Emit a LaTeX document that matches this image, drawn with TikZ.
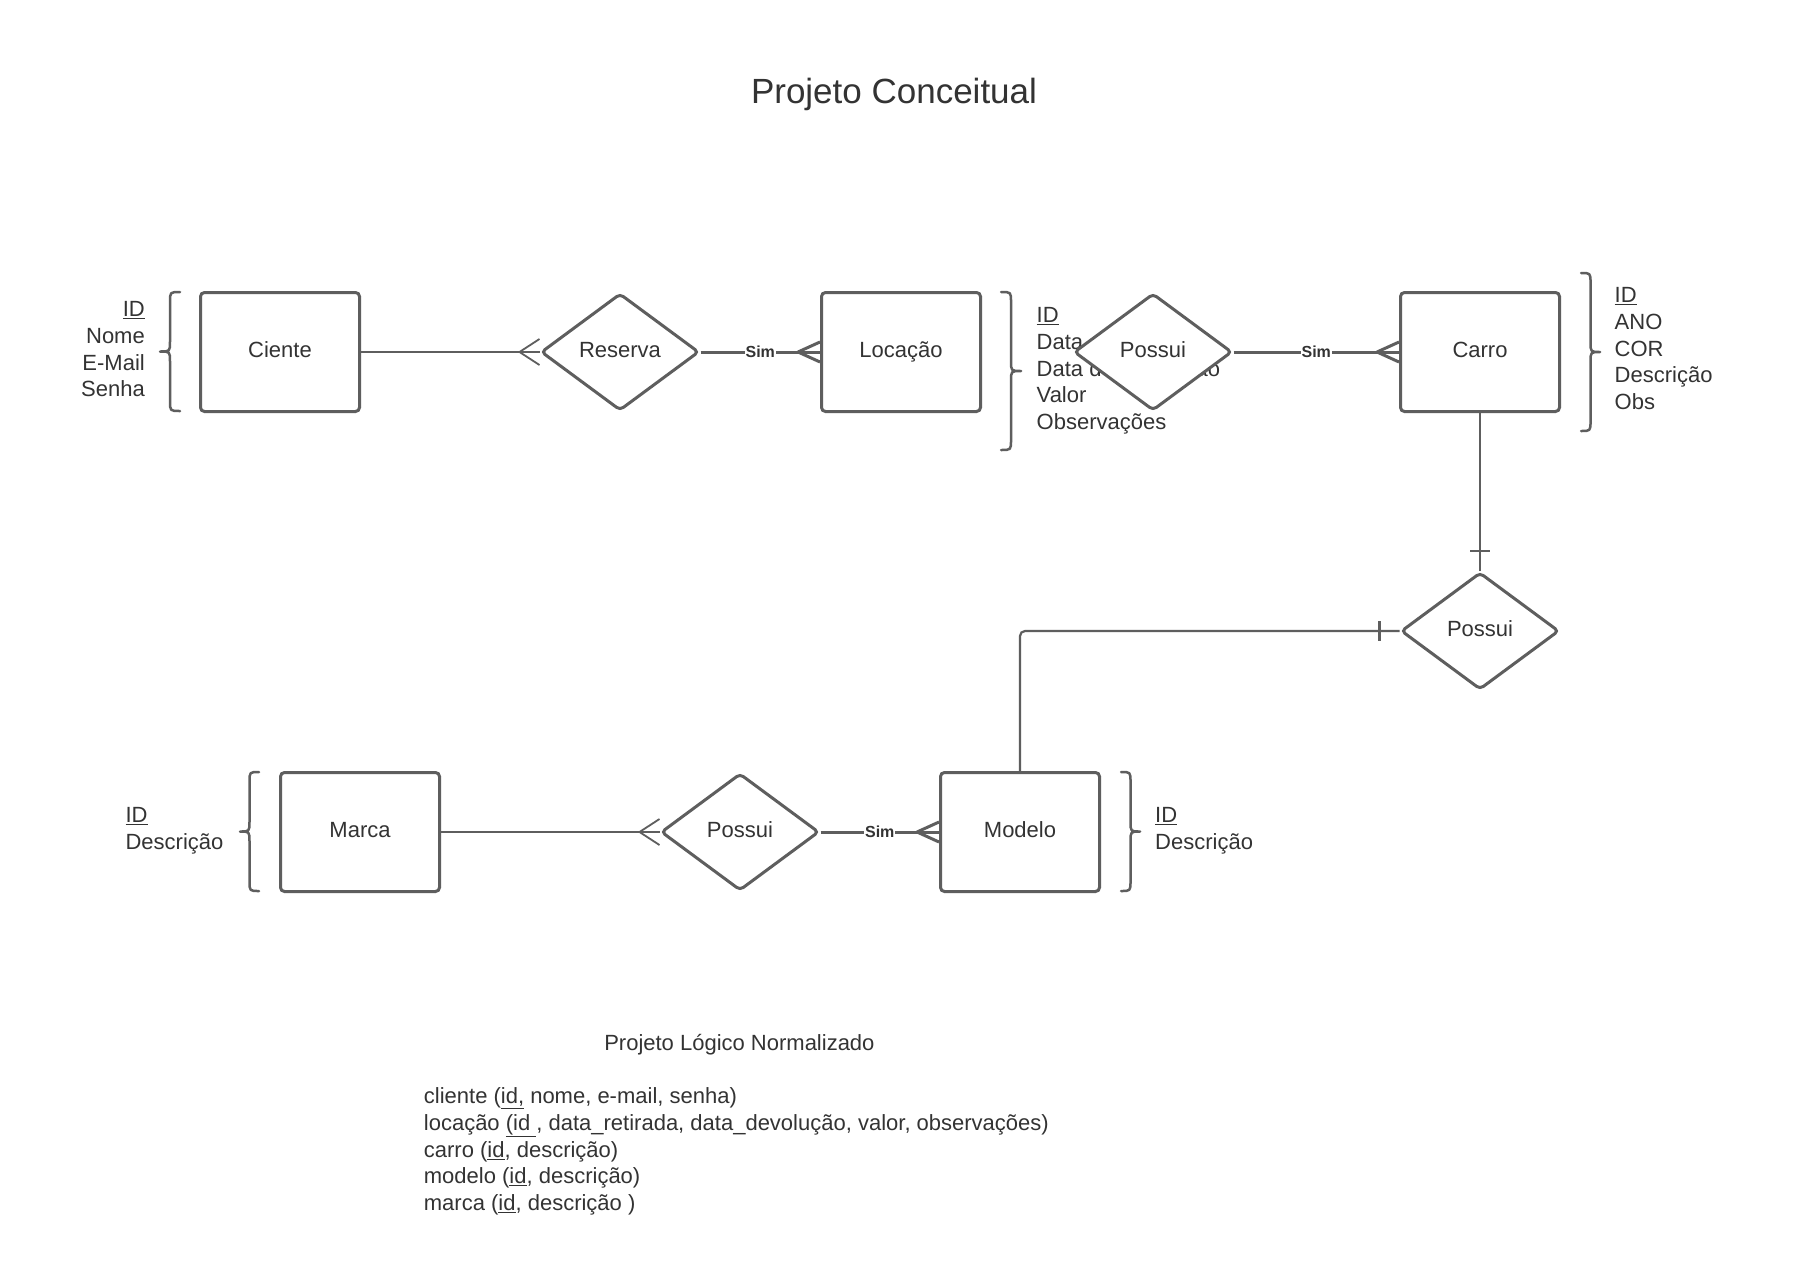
\documentclass[tikz,border=0pt]{standalone}
\usepackage{fontspec}
\setmainfont{Liberation Sans}
\usetikzlibrary{shapes.geometric,calc}
\definecolor{linec}{HTML}{5E5E5E}
\definecolor{txtc}{HTML}{333333}
\pgfdeclarelayer{back}
\pgfdeclarelayer{bg}
\pgfsetlayers{back,bg,main}
\newcommand{\erbrace}[4]{%
  \draw[brc] (#1,#3) .. controls ({(#1+#2)/2},#3) .. ({(#1+#2)/2},{#3+10})
    -- ({(#1+#2)/2},{(#3+#4)/2-10}) .. controls ({(#1+#2)/2},{(#3+#4)/2}) .. (#2,{(#3+#4)/2})
    .. controls ({(#1+#2)/2},{(#3+#4)/2}) .. ({(#1+#2)/2},{(#3+#4)/2+10})
    -- ({(#1+#2)/2},{#4-10}) .. controls ({(#1+#2)/2},#4) .. (#1,#4);}
\newcommand{\crowfoot}[4]{%
  \draw[#4] ($(#1)+(-#2,0)$) -- ($(#1)+(0,-#3)$);
  \draw[#4] ($(#1)+(-#2,0)$) -- ($(#1)+(0,#3)$);}
\begin{document}
\begin{tikzpicture}[x=1pt,y=-1pt,
  entity/.style={draw=linec, line width=3pt, rounded corners=4pt, minimum width=159pt, minimum height=119pt, fill=white, text=txtc, font=\fontsize{22}{26}\selectfont, inner sep=0pt, text height=16pt, text depth=5pt},
  rel/.style={diamond, draw=linec, line width=3pt, rounded corners=4pt, minimum width=158pt, minimum height=117pt, fill=white, text=txtc, font=\fontsize{22}{26}\selectfont, inner sep=0pt, text height=16pt, text depth=5pt},
  attrW/.style={anchor=base west, inner sep=0pt, text=txtc, font=\fontsize{22}{26}\selectfont},
  attrE/.style={anchor=base east, inner sep=0pt, text=txtc, font=\fontsize{22}{26}\selectfont},
  brc/.style={draw=linec, line width=2.5pt, line cap=round, line join=round},
  thinc/.style={draw=linec, line width=1.8pt},
  midc/.style={draw=linec, line width=2.2pt},
  thickc/.style={draw=linec, line width=3pt},
  simlbl/.style={fill=white, inner sep=1pt, text=txtc, font=\bfseries\fontsize{16}{18}\selectfont},
]
\begin{pgfonlayer}{back}
\fill[white] (0,0) rectangle (1820,1261);
\end{pgfonlayer}
\useasboundingbox (0,0) rectangle (1820,1261);

% title
\node[anchor=base, inner sep=0pt, text=txtc, font=\fontsize{35}{40}\selectfont] (title) at (894,103) {Projeto Conceitual};

% attributes
\foreach \t [count=\i] in {{\underline{ID}},Nome,E-Mail,Senha}
  \node[attrE] (cla\i) at (145,{316.8+26.7*(\i-1)}) {\t};
\foreach \t [count=\i] in {{\underline{ID}},Data de retirada,Data de devolução,Valor,Observações}
  \node[attrW] (loa\i) at (1036.5,{322.6+26.7*(\i-1)}) {\t};
\foreach \t [count=\i] in {{\underline{ID}},ANO,COR,Descrição,Obs}
  \node[attrW] (caa\i) at (1614.5,{302.8+26.7*(\i-1)}) {\t};
\foreach \t [count=\i] in {{\underline{ID}},Descrição}
  \node[attrW] (maa\i) at (125.4,{822.8+26.7*(\i-1)}) {\t};
\foreach \t [count=\i] in {{\underline{ID}},Descrição}
  \node[attrW] (moa\i) at (1155,{822.8+26.7*(\i-1)}) {\t};

% braces
\erbrace{180}{160}{292}{411}
\erbrace{1001}{1021}{292}{450}
\erbrace{1581}{1600}{273}{431}
\erbrace{259}{240}{772}{891}
\erbrace{1121}{1140}{772}{891}

% entities and relationships
\node[entity] (cli) at (280,352) {Ciente};
\node[rel] (res) at (620,352) {Reserva};
\node[entity] (loc) at (901,352) {Locação};
\node[rel] (pt) at (1153,352) {Possui};
\node[entity] (car) at (1480,352) {Carro};
\node[rel] (pr) at (1480,631) {Possui};
\node[entity] (mar) at (360,832) {Marca};
\node[rel] (pb) at (740,832) {Possui};
\node[entity] (mod) at (1020,832) {Modelo};

% connectors
\begin{pgfonlayer}{bg}
\draw[thinc] (cli.east) -- (res.west);
\crowfoot{res.west}{20}{13}{thinc}
\draw[thickc] (res.east) -- node[simlbl] (s1) {Sim} (loc.west);
\crowfoot{loc.west}{22}{10}{thickc}
\draw[thickc] (pt.east) -- node[simlbl] (s2) {Sim} (car.west);
\crowfoot{car.west}{22}{10}{thickc}
\draw[midc] (car.south) -- (pr.north);
\draw[midc] ($(pr.north)+(-10,-20)$) -- ($(pr.north)+(10,-20)$);
\draw[midc, rounded corners=5pt] (pr.west) -| (mod.north);
\draw[midc] ($(pr.west)+(-20,-10)$) -- ($(pr.west)+(-20,10)$);
\draw[thinc] (mar.east) -- (pb.west);
\crowfoot{pb.west}{20}{13}{thinc}
\draw[thickc] (pb.east) -- node[simlbl] (s3) {Sim} (mod.west);
\crowfoot{mod.west}{22}{10}{thickc}
\end{pgfonlayer}

% logical project
\node[anchor=base, inner sep=0pt, text=txtc, font=\fontsize{22}{26}\selectfont] (lh) at (739.4,1050.3) {Projeto Lógico Normalizado};
\foreach \t [count=\i] in {{cliente (\underline{id,} nome, e-mail, senha)},{locação \underline{(id }, data\_retirada, data\_devolução, valor, observações)},{carro (\underline{id}, descrição)},{modelo (\underline{id}, descrição)},{marca (\underline{id}, descrição )}}
  \node[attrW] (lg\i) at (423.7,{1103.7+26.7*(\i-1)}) {\t};
\end{tikzpicture}
\end{document}
